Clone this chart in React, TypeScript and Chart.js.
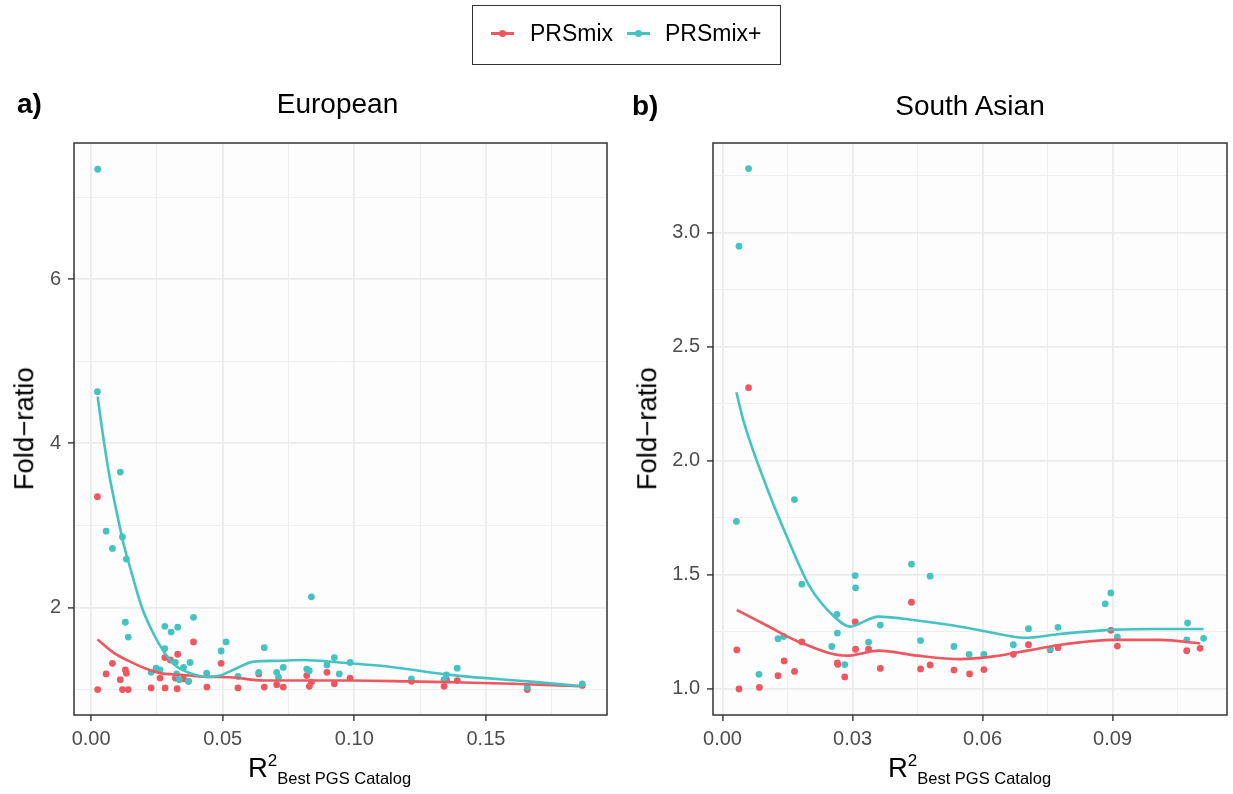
import React, { useEffect, useRef } from 'react';
import { Chart, registerables } from 'chart.js';

Chart.register(...registerables);

const RED = '#EF5760';
const TEAL = '#45C3C3';
const FONT = '"Liberation Sans", Arial, Helvetica, sans-serif';

// ---------- European panel (a) ----------
const euRedX = [0.0024, 0.0057, 0.0081, 0.0025, 0.0111, 0.0130, 0.0134, 0.0119, 0.0141, 0.0228, 0.0262, 0.0280, 0.0301, 0.0329, 0.0281, 0.0327, 0.0320, 0.0351, 0.0370, 0.0389, 0.0440, 0.0494, 0.0558, 0.0637, 0.0658, 0.0705, 0.0730, 0.0819, 0.0829, 0.0837, 0.0896, 0.0924, 0.0984, 0.1217, 0.1341, 0.1350, 0.1391, 0.1657, 0.1866];
const euRedY = [3.35, 1.19, 1.32, 1.00, 1.12, 1.24, 1.20, 1.00, 1.00, 1.02, 1.14, 1.39, 1.36, 1.43, 1.02, 1.01, 1.14, 1.13, 1.10, 1.58, 1.03, 1.32, 1.02, 1.19, 1.03, 1.06, 1.03, 1.17, 1.04, 1.09, 1.21, 1.07, 1.14, 1.10, 1.04, 1.12, 1.11, 1.00, 1.05];
const euTealX = [0.0025, 0.0024, 0.0111, 0.0057, 0.0119, 0.0081, 0.0134, 0.0130, 0.0141, 0.0280, 0.0304, 0.0329, 0.0389, 0.0280, 0.0320, 0.0376, 0.0228, 0.0247, 0.0262, 0.0325, 0.0351, 0.0335, 0.0370, 0.0439, 0.0494, 0.0513, 0.0558, 0.0637, 0.0658, 0.0705, 0.0712, 0.0730, 0.0819, 0.0829, 0.0837, 0.0896, 0.0924, 0.0943, 0.0984, 0.1217, 0.1341, 0.1350, 0.1391, 0.1657, 0.1866];
const euTealY = [7.34, 4.63, 3.65, 2.93, 2.86, 2.72, 2.59, 1.82, 1.64, 1.77, 1.70, 1.76, 1.88, 1.50, 1.33, 1.33, 1.21, 1.26, 1.24, 1.19, 1.27, 1.12, 1.10, 1.20, 1.47, 1.58, 1.16, 1.21, 1.51, 1.21, 1.15, 1.27, 1.25, 1.23, 2.13, 1.30, 1.39, 1.19, 1.33, 1.13, 1.12, 1.18, 1.26, 1.03, 1.07];
const euTealFitX = [0.0025, 0.0037, 0.0066, 0.0098, 0.0123, 0.0155, 0.0193, 0.0237, 0.0281, 0.0325, 0.0376, 0.0439, 0.0490, 0.0553, 0.0617, 0.0700, 0.0807, 0.0943, 0.1100, 0.1390, 0.1660, 0.1866];
const euTealFitY = [4.57, 4.28, 3.67, 3.15, 2.78, 2.41, 2.00, 1.68, 1.44, 1.28, 1.20, 1.155, 1.17, 1.26, 1.34, 1.35, 1.36, 1.33, 1.29, 1.17, 1.10, 1.04];
const euRedFitX = [0.0024, 0.0085, 0.0148, 0.0212, 0.0262, 0.0338, 0.0439, 0.0528, 0.0654, 0.0800, 0.0984, 0.1200, 0.1350, 0.1600, 0.1866];
const euRedFitY = [1.61, 1.45, 1.34, 1.25, 1.20, 1.18, 1.155, 1.15, 1.11, 1.11, 1.11, 1.10, 1.09, 1.07, 1.04];
const euXMajor = [0, 0.05, 0.1, 0.15];
const euXLabels = ['0.00', '0.05', '0.10', '0.15'];
const euXMinor = [0.025, 0.075, 0.125, 0.175];
const euYMajor = [2, 4, 6];
const euYLabels = ['2', '4', '6'];
const euYMinor = [1, 3, 5, 7];

// ---------- South Asian panel (b) ----------
const saRedX = [0.0060, 0.0033, 0.0038, 0.0085, 0.0128, 0.0142, 0.0166, 0.0183, 0.0265, 0.0266, 0.0282, 0.0306, 0.0307, 0.0337, 0.0364, 0.0436, 0.0457, 0.0479, 0.0534, 0.0570, 0.0603, 0.0671, 0.0706, 0.0756, 0.0774, 0.0896, 0.0911, 0.1071, 0.1102];
const saRedY = [2.32, 1.171, 1.00, 1.007, 1.058, 1.123, 1.077, 1.206, 1.114, 1.108, 1.053, 1.294, 1.174, 1.174, 1.09, 1.38, 1.088, 1.105, 1.083, 1.066, 1.085, 1.152, 1.194, 1.172, 1.181, 1.257, 1.188, 1.168, 1.178];
const saTealX = [0.0060, 0.0038, 0.0032, 0.0166, 0.0183, 0.0128, 0.0141, 0.0084, 0.0264, 0.0265, 0.0252, 0.0282, 0.0306, 0.0307, 0.0337, 0.0364, 0.0436, 0.0479, 0.0457, 0.0534, 0.0569, 0.0603, 0.0671, 0.0706, 0.0756, 0.0774, 0.0883, 0.0896, 0.0911, 0.1073, 0.1071, 0.1110];
const saTealY = [3.28, 2.94, 1.734, 1.83, 1.459, 1.22, 1.23, 1.064, 1.327, 1.245, 1.186, 1.107, 1.497, 1.443, 1.205, 1.28, 1.547, 1.494, 1.212, 1.186, 1.152, 1.152, 1.194, 1.264, 1.175, 1.27, 1.373, 1.421, 1.228, 1.289, 1.215, 1.222];
const saTealFitX = [0.0032, 0.0048, 0.0102, 0.0149, 0.0202, 0.0256, 0.0295, 0.0308, 0.0360, 0.0449, 0.0549, 0.0626, 0.0695, 0.0779, 0.0906, 0.1000, 0.1110];
const saTealFitY = [2.30, 2.177, 1.884, 1.665, 1.446, 1.32, 1.273, 1.28, 1.317, 1.30, 1.273, 1.245, 1.224, 1.241, 1.26, 1.263, 1.263];
const saRedFitX = [0.0033, 0.0102, 0.0179, 0.0287, 0.0360, 0.0449, 0.0549, 0.0626, 0.0703, 0.0780, 0.0906, 0.1010, 0.1102];
const saRedFitY = [1.346, 1.278, 1.204, 1.146, 1.168, 1.146, 1.131, 1.143, 1.168, 1.194, 1.215, 1.215, 1.20];
const saXMajor = [0, 0.03, 0.06, 0.09];
const saXLabels = ['0.00', '0.03', '0.06', '0.09'];
const saXMinor = [0.015, 0.045, 0.075, 0.105];
const saYMajor = [1, 1.5, 2, 2.5, 3];
const saYLabels = ['1.0', '1.5', '2.0', '2.5', '3.0'];
const saYMinor = [1.25, 1.75, 2.25, 2.75, 3.25];

const zip = (xs: number[], ys: number[]) => xs.map((x, i) => ({ x, y: ys[i] }));
const near = (a: number, b: number) => Math.abs(a - b) < 1e-9;

function makeAxis(major: number[], labels: string[], minor: number[], min: number, max: number, isX: boolean, size: number) {
  const all = [...major, ...minor].sort((a, b) => a - b);
  const isMajor = (v: number) => major.some((m) => near(m, v));
  return {
    type: 'linear',
    min,
    max,
    afterBuildTicks: (s: any) => {
      s.ticks = all.map((v) => ({ value: v }));
    },
    afterFit: (s: any) => {
      if (isX) s.height = size;
      else s.width = size;
    },
    border: { display: false },
    ticks: {
      autoSkip: false,
      maxRotation: 0,
      minRotation: 0,
      padding: isX ? 6 : 7,
      color: '#4D4D4D',
      font: { family: FONT, size: 20 },
      callback: (v: any) => {
        const i = major.findIndex((m) => near(m, Number(v)));
        return i >= 0 ? labels[i] : '';
      },
    },
    grid: {
      drawTicks: true,
      tickLength: 6,
      tickWidth: 1.4,
      color: (ctx: any) => (ctx.tick && isMajor(ctx.tick.value) ? '#EBEBEB' : '#EEEEEE'),
      lineWidth: (ctx: any) => (ctx.tick && isMajor(ctx.tick.value) ? 1.8 : 1.0),
      tickColor: (ctx: any) => (ctx.tick && isMajor(ctx.tick.value) ? '#333333' : 'rgba(0,0,0,0)'),
    },
  };
}

const panelPlugin = {
  id: 'panelFrame',
  beforeDraw(chart: any) {
    const { ctx, chartArea } = chart;
    const { left, top, right, bottom } = chartArea;
    ctx.save();
    ctx.fillStyle = '#FDFDFD';
    ctx.fillRect(left, top, right - left, bottom - top);
    ctx.restore();
  },
  afterDraw(chart: any) {
    const { ctx, chartArea } = chart;
    const { left, top, right, bottom } = chartArea;
    ctx.save();
    ctx.strokeStyle = '#333333';
    ctx.lineWidth = 1.5;
    ctx.strokeRect(left, top, right - left, bottom - top);
    ctx.restore();
  },
};

function buildConfig(p: any) {
  const pointDs = (label: string, xs: number[], ys: number[], color: string, order: number) => ({
    label,
    data: zip(xs, ys),
    showLine: false,
    pointRadius: 3.4,
    pointBorderWidth: 0,
    pointBackgroundColor: color,
    backgroundColor: color,
    borderColor: color,
    order,
  });
  const lineDs = (label: string, xs: number[], ys: number[], color: string, order: number) => ({
    label,
    data: zip(xs, ys),
    showLine: true,
    pointRadius: 0,
    borderColor: color,
    borderWidth: 2.6,
    tension: 0.4,
    cubicInterpolationMode: 'monotone',
    fill: false,
    order,
  });
  return {
    type: 'scatter',
    data: {
      datasets: [
        lineDs('PRSmix+ fit', p.tealFitX, p.tealFitY, TEAL, 0),
        lineDs('PRSmix fit', p.redFitX, p.redFitY, RED, 1),
        pointDs('PRSmix+', p.tealX, p.tealY, TEAL, 2),
        pointDs('PRSmix', p.redX, p.redY, RED, 3),
      ],
    },
    options: {
      animation: false,
      responsive: false,
      events: [],
      layout: { padding: p.padding },
      plugins: { legend: { display: false }, tooltip: { enabled: false }, title: { display: false } },
      scales: {
        x: makeAxis(p.xMajor, p.xLabels, p.xMinor, p.xMin, p.xMax, true, 45),
        y: makeAxis(p.yMajor, p.yLabels, p.yMinor, p.yMin, p.yMax, false, p.yWidth),
      },
    },
    plugins: [panelPlugin],
  };
}

function Panel({ left, width, p }: { left: number; width: number; p: any }) {
  const ref = useRef<HTMLCanvasElement>(null);
  useEffect(() => {
    if (!ref.current) return;
    const chart = new Chart(ref.current, buildConfig(p) as any);
    return () => chart.destroy();
  }, []);
  return <canvas ref={ref} width={width} height={794} style={{ position: 'absolute', left, top: 0, width, height: 794 }} />;
}

const euParams = {
  redX: euRedX, redY: euRedY, tealX: euTealX, tealY: euTealY,
  redFitX: euRedFitX, redFitY: euRedFitY, tealFitX: euTealFitX, tealFitY: euTealFitY,
  xMajor: euXMajor, xLabels: euXLabels, xMinor: euXMinor, xMin: -0.0065, xMax: 0.196,
  yMajor: euYMajor, yLabels: euYLabels, yMinor: euYMinor, yMin: 0.69, yMax: 7.66,
  yWidth: 74, padding: { left: 0, right: 9, top: 143, bottom: 34 },
};

const saParams = {
  redX: saRedX, redY: saRedY, tealX: saTealX, tealY: saTealY,
  redFitX: saRedFitX, redFitY: saRedFitY, tealFitX: saTealFitX, tealFitY: saTealFitY,
  xMajor: saXMajor, xLabels: saXLabels, xMinor: saXMinor, xMin: -0.0022, xMax: 0.1164,
  yMajor: saYMajor, yLabels: saYLabels, yMinor: saYMinor, yMin: 0.886, yMax: 3.392,
  yWidth: 97, padding: { left: 0, right: 6, top: 143, bottom: 34 },
};

const txt = (extra: any) => ({ position: 'absolute', fontFamily: FONT, whiteSpace: 'nowrap', color: '#000', ...extra });

function XTitle({ cx }: { cx: number }) {
  return (
    <div style={txt({ left: cx - 150, top: 753.7, width: 300, textAlign: 'center', fontSize: 27.5, lineHeight: '27.5px' })}>
      <span>R</span>
      <span style={{ fontSize: 17, lineHeight: '27.5px', position: 'relative', top: -11 }}>2</span>
      <span style={{ fontSize: 16.5, lineHeight: '27.5px', position: 'relative', top: 7 }}>Best PGS Catalog</span>
    </div>
  );
}

function YTitle({ cx }: { cx: number }) {
  return (
    <div
      style={txt({
        left: cx - 100,
        top: 429 - 13.75,
        width: 200,
        height: 27.5,
        textAlign: 'center',
        fontSize: 27.5,
        lineHeight: '27.5px',
        transform: 'rotate(-90deg)',
        transformOrigin: 'center center',
      })}
    >
      Fold−ratio
    </div>
  );
}

export default function App() {
  return (
    <div style={{ position: 'fixed', left: 0, top: 0, width: 1233, height: 794, background: '#FFFFFF', overflow: 'hidden' }}>
      <Panel left={0} width={616} p={euParams} />
      <Panel left={616} width={617} p={saParams} />

      {/* legend */}
      <div style={{ position: 'absolute', left: 472, top: 5, width: 309, height: 60, border: '1.4px solid #333', boxSizing: 'border-box' }} />
      <div style={{ position: 'absolute', left: 491, top: 32, width: 23, height: 2.6, background: RED }} />
      <div style={{ position: 'absolute', left: 499, top: 30, width: 7, height: 7, borderRadius: '50%', background: RED }} />
      <div style={txt({ left: 530, top: 22.2, fontSize: 23, lineHeight: '23px' })}>PRSmix</div>
      <div style={{ position: 'absolute', left: 627, top: 32, width: 23, height: 2.6, background: TEAL }} />
      <div style={{ position: 'absolute', left: 635, top: 30, width: 7, height: 7, borderRadius: '50%', background: TEAL }} />
      <div style={txt({ left: 665, top: 22.2, fontSize: 23, lineHeight: '23px' })}>PRSmix+</div>

      {/* panel tags and titles */}
      <div style={txt({ left: 17, top: 113.3 - 23.7, fontSize: 28, lineHeight: '28px', fontWeight: 'bold' })}>a)</div>
      <div style={txt({ left: 237.5, top: 113.3 - 23.7, width: 200, textAlign: 'center', fontSize: 28, lineHeight: '28px' })}>European</div>
      <div style={txt({ left: 632, top: 115.5 - 23.7, fontSize: 28, lineHeight: '28px', fontWeight: 'bold' })}>b)</div>
      <div style={txt({ left: 870, top: 115.5 - 23.7, width: 200, textAlign: 'center', fontSize: 28, lineHeight: '28px' })}>South Asian</div>

      <YTitle cx={23.8} />
      <YTitle cx={647.3} />
      <XTitle cx={329.5} />
      <XTitle cx={969.5} />
    </div>
  );
}
